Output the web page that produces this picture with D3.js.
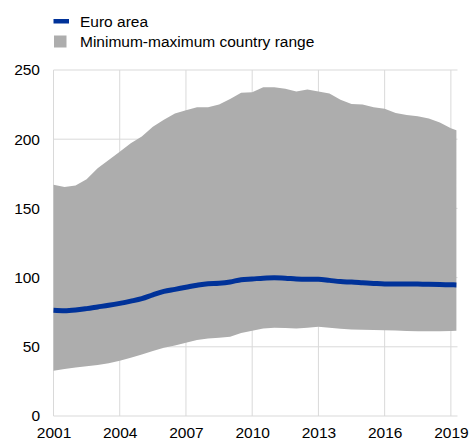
<!DOCTYPE html>
<html>
<head>
<meta charset="utf-8">
<script src="https://cdn.jsdelivr.net/npm/d3@7"></script>
<style>
  body { margin: 0; background: #fff; }
  svg text { font-family: "Liberation Sans", Arial, sans-serif; fill: #000; }
</style>
</head>
<body>
<div id="chart"></div>
<script>
// half-yearly observations (decimal year), last point 2019 Q2
var dates = [2001.0, 2001.5, 2002.0, 2002.5, 2003.0, 2003.5, 2004.0, 2004.5, 2005.0, 2005.5,
             2006.0, 2006.5, 2007.0, 2007.5, 2008.0, 2008.5, 2009.0, 2009.5, 2010.0, 2010.5,
             2011.0, 2011.5, 2012.0, 2012.5, 2013.0, 2013.5, 2014.0, 2014.5, 2015.0, 2015.5,
             2016.0, 2016.5, 2017.0, 2017.5, 2018.0, 2018.5, 2019.0, 2019.25];

var maxRange = [167, 165.5, 166.5, 171, 179, 185, 191, 197, 202, 209,
                214, 218.5, 221, 223, 223, 225, 229, 233.5, 234, 237.5,
                237.5, 236.5, 234.5, 236, 234.5, 233, 228.5, 225.5, 225, 223,
                222, 219, 217.5, 216.5, 215, 212, 208, 206.5];

var minRange = [32.7, 34, 35, 36, 36.8, 38.2, 40, 42, 44.5, 47,
                49.3, 51, 53, 55, 56, 56.5, 57.3, 60, 61.6, 63.3,
                63.8, 63.6, 63.3, 63.8, 64.5, 63.8, 63, 62.5, 62.3, 62.1,
                62, 61.8, 61.5, 61.3, 61.2, 61.3, 61.5, 61.6];

var euroArea = [76.4, 76.1, 76.6, 77.6, 78.8, 80, 81.4, 83, 84.8, 87.5,
                90, 91.5, 93, 94.5, 95.6, 95.9, 96.8, 98.5, 99, 99.6,
                99.9, 99.6, 99, 98.8, 98.8, 98, 97.1, 96.8, 96.3, 95.8,
                95.4, 95.4, 95.4, 95.3, 95.2, 95, 94.8, 94.7];

var xTicks = [2001, 2004, 2007, 2010, 2013, 2016, 2019];
var yTicks = [0, 50, 100, 150, 200, 250];

var legendLabels = ["Euro area", "Minimum-maximum country range"];

var data = dates.map(function (d, i) {
    return { date: d, max: maxRange[i], min: minRange[i], euro: euroArea[i] };
});

var width = 470, height = 441;
var margin = { top: 70, right: 12.5, bottom: 25, left: 53.5 };
var fontSize = "15.5px";

var svg = d3.select("#chart")
    .append("svg")
    .attr("width", width)
    .attr("height", height);

var x = d3.scaleLinear()
    .domain([2001, 2019.3])
    .range([margin.left, width - margin.right]);

var y = d3.scaleLinear()
    .domain([0, 250])
    .range([height - margin.bottom, margin.top]);

// grid lines
svg.append("g")
    .selectAll("line")
    .data(xTicks)
    .enter()
    .append("line")
    .attr("x1", d => x(d))
    .attr("x2", d => x(d))
    .attr("y1", y(0))
    .attr("y2", y(250))
    .attr("stroke", "#d9d9d9")
    .attr("stroke-width", 1);

svg.append("g")
    .selectAll("line")
    .data(yTicks)
    .enter()
    .append("line")
    .attr("x1", x(2001))
    .attr("x2", width - margin.right)
    .attr("y1", d => y(d))
    .attr("y2", d => y(d))
    .attr("stroke", "#d9d9d9")
    .attr("stroke-width", 1);

// min-max area
var area = d3.area()
    .x(d => x(d.date))
    .y0(d => y(d.min))
    .y1(d => y(d.max));

svg.append("path")
    .datum(data)
    .attr("d", area)
    .attr("fill", "#adadad");

// euro area line
var line = d3.line()
    .x(d => x(d.date))
    .y(d => y(d.euro))
    .curve(d3.curveMonotoneX);

svg.append("path")
    .datum(data)
    .attr("d", line)
    .attr("fill", "none")
    .attr("stroke", "#003299")
    .attr("stroke-width", 5);

// axes labels
var xAxis = svg.append("g")
    .attr("transform", "translate(0," + y(0) + ")")
    .call(d3.axisBottom(x).tickValues(xTicks).tickFormat(d3.format("d")).tickSize(0).tickPadding(11));
xAxis.select(".domain").remove();
xAxis.selectAll("text").attr("font-size", fontSize).attr("fill", "#000")
    .style("font-family", "'Liberation Sans', Arial, sans-serif");

var yAxis = svg.append("g")
    .attr("transform", "translate(" + x(2001) + ",0)")
    .call(d3.axisLeft(y).tickValues(yTicks).tickSize(0).tickPadding(13.5));
yAxis.select(".domain").remove();
yAxis.selectAll("text").attr("font-size", fontSize).attr("fill", "#000")
    .style("font-family", "'Liberation Sans', Arial, sans-serif");

// legend
var legend = svg.append("g");
legend.append("rect")
    .attr("x", 53.5).attr("y", 19)
    .attr("width", 15.5).attr("height", 4.5)
    .attr("fill", "#003299");
legend.append("rect")
    .attr("x", 54).attr("y", 35.5)
    .attr("width", 12.5).attr("height", 12)
    .attr("fill", "#adadad");
legend.selectAll("text")
    .data(legendLabels)
    .enter()
    .append("text")
    .attr("x", 80)
    .attr("y", (d, i) => 26.5 + i * 20)
    .attr("font-size", fontSize)
    .text(d => d);
</script>
</body>
</html>
